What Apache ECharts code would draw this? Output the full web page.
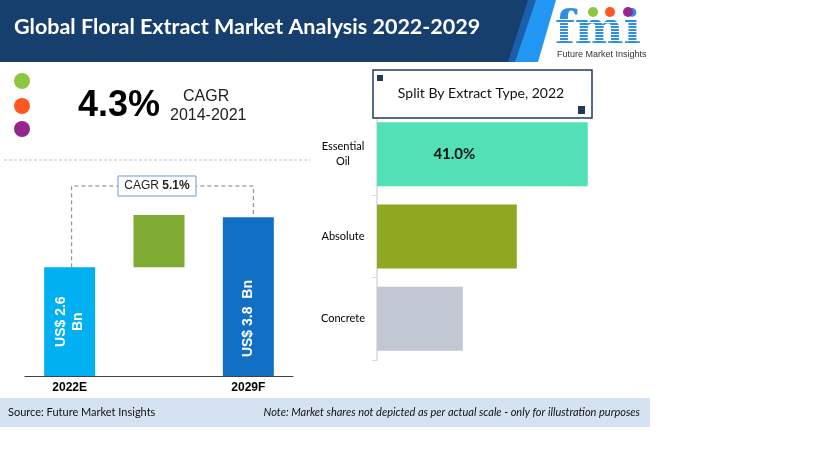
<!DOCTYPE html>
<html>
<head>
<meta charset="utf-8">
<script src="https://cdn.jsdelivr.net/npm/echarts@6/dist/echarts.min.js"></script>
<style>
  html, body { margin: 0; padding: 0; background: #fff; }
  #main { width: 819px; height: 460px; }
</style>
</head>
<body>
<div id="main"></div>
<script>
// market size, US$ Bn
const yearLabels = ['2022E', '', '2029F'];
const marketSize = [2.6, 3.8];
const growthStep = 1.25;   // floating green block between the two bars
const cagrValue = '5.1%';

// split by extract type, 2022 (%)
const extractTypes = ['Essential\nOil', 'Absolute', 'Concrete'];
const extractShare = [41.0, 27.2, 16.7];
const extractColors = ['#52E0B6', '#8FA822', '#C1C8D4'];

const chart = echarts.init(document.getElementById('main'));

const sans = 'Lato, sans-serif';
const gothic = '"Liberation Sans", Arial, sans-serif';

// white stripes over the logo letters
const logoStripes = [];
for (let y = 19; y < 50; y += 3) {
  logoStripes.push({ type: 'rect', shape: { x: 553, y: y, width: 92, height: 1 }, style: { fill: '#fff' }, z: 12 });
}

const option = {
  animation: false,
  textStyle: { fontFamily: sans },
  grid: [
    { left: 25, top: 167, width: 268, height: 209 },
    { left: 377, top: 113, width: 257, height: 247 }
  ],
  xAxis: [
    {
      gridIndex: 0,
      type: 'category',
      data: yearLabels,
      axisLine: { lineStyle: { color: '#404040', width: 1 } },
      axisTick: { show: false },
      axisLabel: { color: '#000', fontWeight: 'bold', fontSize: 12, margin: 6, fontFamily: gothic }
    },
    { gridIndex: 1, type: 'value', min: 0, max: 50, show: false }
  ],
  yAxis: [
    { gridIndex: 0, type: 'value', min: 0, max: 5, show: false },
    {
      gridIndex: 1,
      type: 'category',
      inverse: true,
      data: extractTypes,
      axisLine: { lineStyle: { color: '#D9D9D9', width: 1.5 } },
      axisTick: { show: true, length: 5, lineStyle: { color: '#D9D9D9' } },
      axisLabel: { color: '#000', fontSize: 11, align: 'center', margin: 34, lineHeight: 15 }
    }
  ],
  series: [
    {
      type: 'bar',
      xAxisIndex: 0, yAxisIndex: 0,
      stack: 'mk',
      barWidth: 51,
      data: [
        {
          value: marketSize[0],
          itemStyle: { color: '#00B0F0' },
          label: {
            show: true, position: 'inside', rotate: 90,
            formatter: 'US$ ' + marketSize[0] + '\nBn',
            color: '#fff', fontWeight: 'bold', fontSize: 14, lineHeight: 17, fontFamily: gothic
          }
        },
        { value: marketSize[0], itemStyle: { color: 'transparent' } },
        {
          value: marketSize[1],
          itemStyle: { color: '#1270C4' },
          label: {
            show: true, position: 'inside', rotate: 90, offset: [-22, 0],
            formatter: 'US$ ' + marketSize[1] + '  Bn',
            color: '#fff', fontWeight: 'bold', fontSize: 14, fontFamily: gothic
          }
        }
      ]
    },
    {
      type: 'bar',
      xAxisIndex: 0, yAxisIndex: 0,
      stack: 'mk',
      barWidth: 51,
      itemStyle: { color: '#7FAB32' },
      data: ['-', growthStep, '-']
    },
    {
      type: 'bar',
      xAxisIndex: 1, yAxisIndex: 1,
      barWidth: 64,
      data: extractShare.map((v, i) => ({
        value: v,
        itemStyle: { color: extractColors[i] },
        label: i === 0 ? {
          show: true, position: 'inside', offset: [-28, 0],
          formatter: v.toFixed(1) + '%', color: '#111', fontWeight: 'bold', fontSize: 15
        } : { show: false }
      }))
    }
  ],
  graphic: [
    // header band
    { type: 'polygon', shape: { points: [[0, 0], [530, 0], [510, 62], [0, 62]] }, style: { fill: '#173F6E' } },
    { type: 'polygon', shape: { points: [[528, 0], [537, 0], [516, 62], [508, 62]] }, style: { fill: '#1B5FAA' } },
    { type: 'polygon', shape: { points: [[536, 0], [556, 0], [538, 62], [515, 62]] }, style: { fill: '#2196F3' } },
    {
      type: 'text', left: 14, top: 16,
      style: { text: 'Global Floral Extract Market Analysis 2022-2029', fill: '#fff', font: 'bold 21.5px Lato, sans-serif' }
    },
    // logo
    {
      type: 'text', left: 555, top: 9, z: 11,
      style: { text: 'fmi', fill: '#2E8FE0', font: 'bold 46px "DejaVu Serif", serif' }
    },
    ...logoStripes,
    { type: 'circle', shape: { cx: 593, cy: 12, r: 5 }, style: { fill: '#8DC63F' }, z: 13 },
    { type: 'circle', shape: { cx: 610, cy: 12, r: 5 }, style: { fill: '#FF5722' }, z: 13 },
    { type: 'circle', shape: { cx: 628, cy: 12, r: 5 }, style: { fill: '#93278F' }, z: 13 },
    {
      type: 'text', left: 557, top: 50,
      style: { text: 'Future Market Insights', fill: '#333', font: '9px "Liberation Sans Narrow", Arial, sans-serif' }
    },
    // CAGR block
    { type: 'circle', shape: { cx: 22, cy: 81, r: 8 }, style: { fill: '#8DC63F' } },
    { type: 'circle', shape: { cx: 22, cy: 106, r: 8 }, style: { fill: '#FF5722' } },
    { type: 'circle', shape: { cx: 22, cy: 129, r: 8 }, style: { fill: '#93278F' } },
    {
      type: 'text', left: 78, top: 88,
      style: { text: '4.3%', fill: '#000', font: 'bold 36px "Liberation Sans", Arial, sans-serif' }
    },
    {
      type: 'text', left: 183, top: 89,
      style: { text: 'CAGR', fill: '#222', font: '16px "Liberation Sans", Arial, sans-serif' }
    },
    {
      type: 'text', left: 170, top: 108,
      style: { text: '2014-2021', fill: '#222', font: '16px "Liberation Sans", Arial, sans-serif' }
    },
    { type: 'line', shape: { x1: 4, y1: 160, x2: 310, y2: 160 }, style: { stroke: '#BFBFBF', lineWidth: 1, lineDash: [3, 2] } },
    // split title box
    { type: 'rect', shape: { x: 373, y: 70, width: 219, height: 48 }, style: { fill: '#fff', stroke: '#1F3A5F', lineWidth: 1.5 }, z: 5 },
    { type: 'rect', shape: { x: 377, y: 75, width: 6, height: 6 }, style: { fill: '#1F3A5F' }, z: 6 },
    { type: 'rect', shape: { x: 578, y: 106, width: 7, height: 8 }, style: { fill: '#1F3A5F' }, z: 6 },
    {
      type: 'text', x: 481, y: 93, z: 6,
      style: { text: 'Split By Extract Type, 2022', fill: '#111', font: '14px Lato, sans-serif', align: 'center', verticalAlign: 'middle' }
    },
    // footer
    { type: 'rect', shape: { x: 0, y: 398, width: 650, height: 29 }, style: { fill: '#D5E2F1' } },
    {
      type: 'text', x: 8, y: 412,
      style: { text: 'Source: Future Market Insights', fill: '#111', font: '11px Lato, sans-serif', verticalAlign: 'middle' }
    },
    {
      type: 'text', x: 640, y: 412,
      style: { text: 'Note: Market shares not depicted as per actual scale - only for illustration purposes', fill: '#111', font: 'italic 11px Lato, sans-serif', align: 'right', verticalAlign: 'middle' }
    }
  ]
};

chart.setOption(option);

// dashed connector + CAGR box, positioned from the bar tops
const p0 = chart.convertToPixel({ xAxisIndex: 0, yAxisIndex: 0 }, [0, marketSize[0]]);
const p2 = chart.convertToPixel({ xAxisIndex: 0, yAxisIndex: 0 }, [2, marketSize[1]]);
const lineY = 186;
const midX = (p0[0] + p2[0]) / 2;
chart.setOption({
  graphic: [
    {
      id: 'connector', type: 'polyline',
      shape: { points: [[p0[0] + 2, p0[1]], [p0[0] + 2, lineY], [p2[0] + 5, lineY], [p2[0] + 5, p2[1]]] },
      style: { stroke: '#7F7F7F', lineWidth: 1, lineDash: [4, 3], fill: null }
    },
    {
      id: 'cagrBox', type: 'rect', z: 10,
      shape: { x: midX - 41, y: lineY - 10, width: 78, height: 20 },
      style: { fill: '#fff', stroke: '#6C9BD2', lineWidth: 1 }
    },
    {
      id: 'cagrText', type: 'text', z: 11,
      x: midX - 2, y: lineY,
      style: {
        text: '{a|CAGR }{b|' + cagrValue + '}',
        align: 'center', verticalAlign: 'middle',
        rich: {
          a: { fontSize: 12, fill: '#222', fontFamily: gothic },
          b: { fontSize: 12, fill: '#222', fontWeight: 'bold', fontFamily: gothic }
        }
      }
    }
  ]
});
</script>
</body>
</html>
